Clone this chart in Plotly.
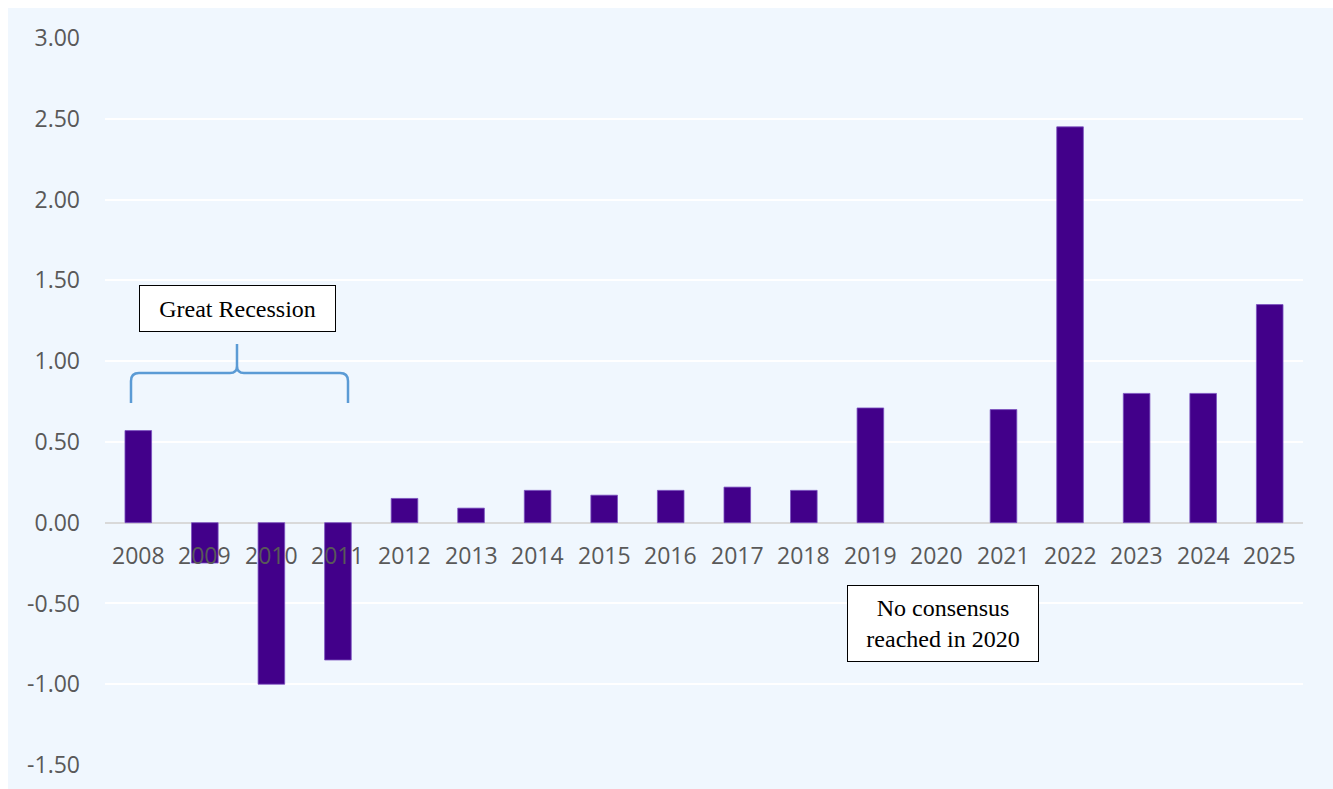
import plotly.graph_objects as go

years = ["2008", "2009", "2010", "2011", "2012", "2013", "2014", "2015", "2016",
         "2017", "2018", "2019", "2020", "2021", "2022", "2023", "2024", "2025"]
values = [0.57, -0.25, -1.00, -0.85, 0.15, 0.09, 0.20, 0.17, 0.20,
          0.22, 0.20, 0.71, None, 0.70, 2.45, 0.80, 0.80, 1.35]
y_ticks = [3.0, 2.5, 2.0, 1.5, 1.0, 0.5, 0.0, -0.5, -1.0, -1.5]

W, H = 1333, 789
L, R, T, B = 105, 30, 38, 24
pw, ph = W - L - R, H - T - B


def px(x):
    return (x - L) / pw


def py(y):
    return (H - B - y) / ph


fig = go.Figure()
fig.add_trace(go.Bar(
    x=years, y=values, width=0.4,
    marker=dict(color="#42008A", line=dict(color="#7B52C0", width=0.8)),
    hoverinfo="x+y",
))

bg = "#F0F7FE"
shapes = [
    dict(type="rect", xref="paper", yref="paper", layer="below",
         x0=px(8), x1=px(W + 5), y0=py(H + 5), y1=py(8),
         fillcolor=bg, line=dict(width=0)),
]


def P(x, y):
    return f"{px(x):.5f},{py(y):.5f}"


brace = ("M " + P(131, 403) + " L " + P(131, 381) + " Q " + P(131, 373) + " " + P(139, 373)
         + " L " + P(230, 373) + " Q " + P(237, 373) + " " + P(237, 366)
         + " L " + P(237, 344) + " L " + P(237, 366) + " Q " + P(237, 373) + " " + P(244, 373)
         + " L " + P(340, 373) + " Q " + P(348, 373) + " " + P(348, 381) + " L " + P(348, 403))
shapes.append(dict(type="path", xref="paper", yref="paper", path=brace,
                   line=dict(color="#5B9BD5", width=2.5)))

tickfont = dict(family="Open Sans, Calibri, sans-serif", size=23, color="#595959")
annotations = []
for i, yr in enumerate(years):
    annotations.append(dict(x=i, y=0, xref="x", yref="y", text=yr, showarrow=False,
                            yanchor="middle", yshift=-32, font=tickfont))

serif = "Liberation Serif, Times New Roman, serif"
annotations.append(dict(xref="paper", yref="paper", x=px(237), y=py(308), text="Great Recession",
                        showarrow=False, xanchor="center", yanchor="middle",
                        width=195, height=45, bgcolor="white", bordercolor="black", borderwidth=1,
                        borderpad=0, font=dict(family=serif, size=24, color="black")))
annotations.append(dict(xref="paper", yref="paper", x=px(943), y=py(623),
                        text="No consensus<br>reached in 2020",
                        showarrow=False, xanchor="center", yanchor="middle",
                        width=190, height=75, bgcolor="white", bordercolor="black", borderwidth=1,
                        borderpad=0, font=dict(family=serif, size=24, color="black")))

fig.update_layout(
    width=W, height=H,
    margin=dict(l=L, r=R, t=T, b=B, autoexpand=False),
    paper_bgcolor="white", plot_bgcolor=bg,
    showlegend=False,
    shapes=shapes,
    annotations=annotations,
    xaxis=dict(type="category", range=[-0.5, 17.5], autorange=False, automargin=False,
               showticklabels=False, showgrid=False, zeroline=False,
               showline=False, ticks=""),
    yaxis=dict(range=[-1.5, 3.0], autorange=False, automargin=False, tickvals=y_ticks,
               ticktext=[f"{v:.2f}" for v in y_ticks],
               showgrid=True, gridcolor="white", gridwidth=2,
               zeroline=True, zerolinecolor="#D9D9D9", zerolinewidth=2,
               tickfont=tickfont, ticks="", ticklabelstandoff=24),
)

fig.write_html("out.html")
